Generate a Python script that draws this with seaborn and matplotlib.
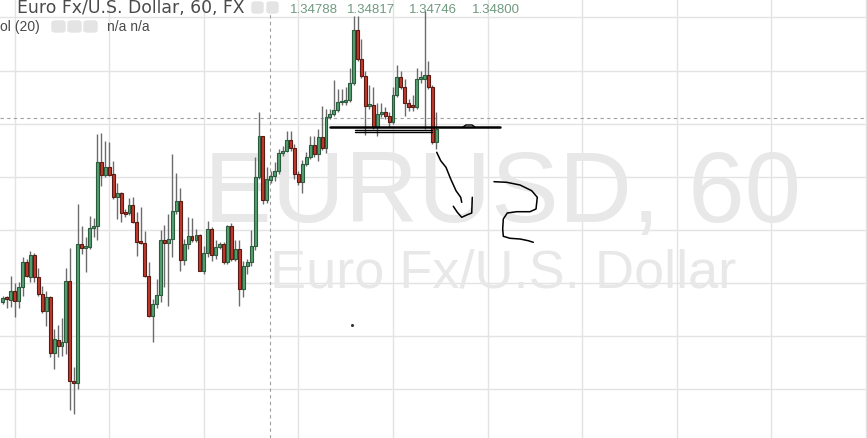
import numpy as np
import pandas as pd
import matplotlib
matplotlib.use("Agg")
import matplotlib.pyplot as plt
import seaborn as sns
from matplotlib.patches import FancyBboxPatch

W, H = 867, 439

# hourly candles, prices in points above 1.34000 (1 point = 0.00001)
open_pts = [632, 636, 634, 642, 633, 646, 670, 656, 676, 656, 640, 624, 637, 584, 596, 591, 594, 652, 558, 556,
            687, 683, 684, 702, 704, 764, 752, 759, 753, 731, 735, 716, 716, 723, 707, 689, 688, 657, 619, 630,
            639, 690, 688, 691, 718, 727, 672, 687, 694, 690, 695, 661, 678, 701, 676, 684, 687, 670, 704, 673,
            682, 644, 666, 670, 685, 750, 788, 728, 747, 751, 755, 772, 774, 785, 777, 753, 745, 762, 769, 780,
            771, 787, 777, 806, 809, 813, 820, 820, 822, 838, 888, 861, 845, 817, 818, 797, 809, 811, 807, 802,
            827, 844, 835, 819, 817, 816, 842, 842, 846, 835, 783]
high_pts = [638, 638, 657, 650, 651, 674, 673, 680, 678, 664, 647, 642, 638, 607, 610, 617, 664, 683, 571, 724,
            704, 693, 713, 711, 790, 791, 784, 783, 765, 744, 736, 720, 730, 731, 717, 722, 699, 670, 635, 654,
            700, 705, 715, 771, 754, 739, 691, 712, 711, 701, 696, 685, 708, 703, 690, 689, 689, 705, 706, 690,
            690, 671, 673, 700, 769, 811, 788, 759, 755, 764, 776, 779, 793, 793, 781, 755, 766, 773, 788, 788,
            795, 817, 814, 814, 841, 833, 833, 835, 852, 901, 901, 880, 850, 836, 835, 819, 819, 816, 811, 835,
            855, 850, 842, 823, 827, 852, 850, 906, 859, 836, 811]
low_pts = [630, 626, 627, 618, 626, 638, 656, 651, 651, 638, 622, 609, 580, 569, 580, 581, 583, 530, 527, 550,
           677, 660, 682, 693, 690, 741, 750, 751, 729, 710, 707, 712, 714, 706, 675, 687, 656, 618, 594, 626,
           632, 646, 628, 674, 715, 661, 667, 682, 689, 689, 661, 658, 674, 671, 673, 682, 668, 668, 671, 671,
           628, 637, 658, 666, 681, 748, 724, 725, 744, 746, 753, 770, 773, 774, 748, 742, 735, 760, 767, 769,
           765, 775, 772, 804, 807, 811, 818, 818, 820, 836, 859, 843, 789, 814, 795, 788, 806, 804, 797, 800,
           825, 833, 807, 812, 812, 814, 838, 795, 833, 781, 776]
close_pts = [636, 635, 642, 633, 646, 670, 657, 676, 656, 640, 624, 637, 584, 597, 591, 594, 652, 558, 556, 687,
             683, 684, 702, 704, 764, 752, 759, 752, 731, 735, 716, 715, 723, 707, 689, 688, 657, 619, 630, 639,
             690, 688, 691, 718, 727, 672, 687, 694, 690, 695, 661, 678, 701, 676, 684, 687, 670, 704, 673, 682,
             644, 666, 670, 685, 750, 788, 728, 748, 751, 755, 772, 774, 785, 777, 753, 745, 762, 769, 780, 771,
             787, 777, 806, 809, 813, 820, 821, 822, 838, 888, 861, 845, 817, 818, 797, 809, 811, 807, 802, 827,
             844, 835, 819, 816, 816, 842, 842, 846, 835, 783, 795]

title_text = "Euro Fx/U.S. Dollar, 60, FX"
ohlc_text = ["1.34788", "1.34817", "1.34746", "1.34800"]
volume_text = "ol (20)"
volume_values = "n/a n/a"
watermark_big = "EURUSD, 60"
watermark_small = "Euro Fx/U.S. Dollar"

# freehand drawings on the chart (screen pixels)
sketch_down = [(436.7, 153.3), (440.7, 161.7), (446, 168.3), (450.7, 180), (456, 191.7), (460.7, 198.3), (461.7, 203.3)]
sketch_hook = [(453.3, 207.3), (457.3, 213.3), (461.7, 218.3), (466.7, 216), (471.7, 214), (472.3, 198.3)]
sketch_s = [(494, 182.7), (506.7, 183.3), (520, 186), (531.7, 191.7), (537.3, 198.3), (536, 210), (530, 212.7),
            (516.7, 212.7), (507.3, 214), (503.3, 220), (502.7, 230), (503.3, 237.3), (510, 239.3), (520, 240),
            (528.3, 241.7), (533.3, 243.3)]

df = pd.DataFrame({"open": open_pts, "high": high_pts, "low": low_pts, "close": close_pts})
df = 1.34 + df / 1e5
df["bar"] = np.arange(1, len(df) + 1)
df["up"] = df["close"] >= df["open"]

sns.set_style("white")
plt.rcParams["font.family"] = ["Liberation Sans", "DejaVu Sans"]

fig = plt.figure(figsize=(W / 100, H / 100), dpi=100)
ax = fig.add_axes([0, 0, 1, 1])

# scale: 3.94 px per bar, 53.1 px per 0.0005
ax.set_xlim(0.264, 220.3)
ax.set_ylim(1.34504, 1.349174)
ax.set_xticks(np.arange(4, 221, 24))
ax.set_yticks(np.arange(1.3455, 1.3492, 0.0005))
ax.grid(True, color="#e3e3e3", lw=1)
ax.set_axisbelow(True)
ax.tick_params(length=0, labelbottom=False, labelleft=False)
for s in ax.spines.values():
    s.set_visible(False)

# watermark
ax.text(502 / W, 1 - 222 / H, watermark_big, transform=fig.transFigure, ha="center", va="baseline",
        fontsize=73, color="#e8e8e8", zorder=0.6)
ax.text(503.5 / W, 1 - 288 / H, watermark_small, transform=fig.transFigure, ha="center", va="baseline",
        fontsize=39, color="#e8e8e8", zorder=0.6)

# crosshair
ax.axvline(68.8, color="#a0a0a0", lw=0.8, ls=(0, (3, 3)), zorder=1)
ax.axhline(1.348054, color="#a0a0a0", lw=0.8, ls=(0, (3, 3)), zorder=1)

# candles
ax.vlines(df["bar"], df["low"], df["high"], color="#6b6b6b", lw=1, zorder=2)
body = (df["close"] - df["open"]).abs().clip(lower=0.000015)
bottom = df[["open", "close"]].min(axis=1)
ax.bar(df["bar"], body, bottom=bottom, width=0.74,
       color=np.where(df["up"], "#53a070", "#c0392b"),
       edgecolor=np.where(df["up"], "#2c5a3c", "#5b1a13"), linewidth=0.8, zorder=3)

# horizontal drawings
def fx(x):
    return x / W

def fy(y):
    return 1 - y / H

ax.plot([fx(330), fx(500)], [fy(128.3), fy(128.3)], color="black", lw=1.8, transform=fig.transFigure, zorder=4)
ax.plot([fx(355), fx(432)], [fy(130.8), fy(130.8)], color="black", lw=1, transform=fig.transFigure, zorder=4)
ax.plot([fx(355), fx(432)], [fy(132.8), fy(132.8)], color="black", lw=1, transform=fig.transFigure, zorder=4)
ax.plot([fx(463), fx(466), fx(472), fx(475)], [fy(128), fy(126), fy(126), fy(128)], color="black", lw=1,
        transform=fig.transFigure, zorder=4)
for pts in [sketch_down, sketch_hook, sketch_s]:
    xs = [fx(p[0]) for p in pts]
    ys = [fy(p[1]) for p in pts]
    ax.plot(xs, ys, color="black", lw=1.1, transform=fig.transFigure, zorder=4)
ax.plot([fx(352)], [fy(326)], marker="o", ms=1.2, color="#333333", transform=fig.transFigure)

# header
fig.text(17 / W, 1 - 13 / H, title_text, fontsize=12.4, color="#4a4a4a", va="baseline", family="DejaVu Sans")
for x0 in [252, 267]:
    fig.patches.append(FancyBboxPatch((fx(x0), fy(14)), 11 / W, 11 / H, boxstyle="round,pad=0,rounding_size=0.004",
                                      transform=fig.transFigure, color="#e4e4e4", zorder=2))
for x0 in [52, 68, 84]:
    fig.patches.append(FancyBboxPatch((fx(x0), fy(33)), 13 / W, 11 / H, boxstyle="round,pad=0,rounding_size=0.004",
                                      transform=fig.transFigure, color="#e4e4e4", zorder=2))
for x0, s in zip([290, 347, 409, 472], ohlc_text):
    fig.text(x0 / W, 1 - 13 / H, s, fontsize=9.5, color="#6f9a80", va="baseline")
fig.text(0, 1 - 31 / H, volume_text, fontsize=10, color="#4a4a4a", va="baseline")
fig.text(107 / W, 1 - 31 / H, volume_values, fontsize=10, color="#4a4a4a", va="baseline")

fig.savefig("out.png", dpi=100)
